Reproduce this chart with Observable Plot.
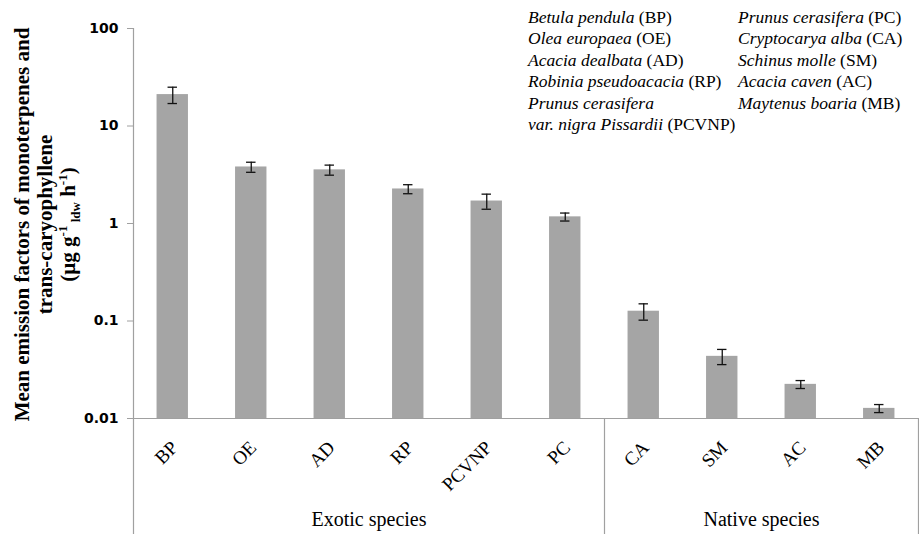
<!DOCTYPE html>
<html>
<head>
<meta charset="utf-8">
<script src="https://cdn.jsdelivr.net/npm/d3@7"></script>
<script src="https://cdn.jsdelivr.net/npm/@observablehq/plot@0.6"></script>
<style>
  body { margin: 0; background: #fff; }
  #wrap { position: relative; width: 919px; height: 534px; overflow: hidden; }
  #wrap svg { position: absolute; left: 0; top: 0; }
  .legcol {
    position: absolute; top: 7px;
    font-family: "Liberation Serif", "Times New Roman", serif; font-size: 17.5px; line-height: 21.4px;
    white-space: nowrap; color: #000;
  }
  .legcol i { font-family: "Liberation Serif", "Times New Roman", serif; font-style: italic; }
</style>
</head>
<body>
<div id="wrap"></div>
<script>
// ---- data ----
const categories = ["BP", "OE", "AD", "RP", "PCVNP", "PC", "CA", "SM", "AC", "MB"];
const means  = [21, 3.8, 3.55, 2.26, 1.7, 1.17, 0.126, 0.0434, 0.0224, 0.0127];
const errors = [4, 0.45, 0.42, 0.24, 0.3, 0.11, 0.024, 0.0077, 0.0021, 0.0012];
const groupNames = ["Exotic species", "Native species"];
const groupSizes = [6, 4];
const yTicks = [0.01, 0.1, 1, 10, 100];
const yTitleLines = ["Mean emission factors of monoterpenes and", "trans-caryophyllene", "(µg g-1 ldw h-1)"];
const legendLeft = [
  ["Betula pendula", "BP"],
  ["Olea europaea", "OE"],
  ["Acacia dealbata", "AD"],
  ["Robinia pseudoacacia", "RP"],
  ["Prunus cerasifera", ""],
  ["var. nigra Pissardii", "PCVNP"]
];
const legendRight = [
  ["Prunus cerasifera", "PC"],
  ["Cryptocarya alba", "CA"],
  ["Schinus molle", "SM"],
  ["Acacia caven", "AC"],
  ["Maytenus boaria", "MB"]
];

// ---- derived tables ----
const rows = categories.map((c, i) => ({c, i, m: means[i], e: errors[i]}));
let start = 0;
const groups = groupNames.map((name, k) => {
  const s = start, e = start + groupSizes[k] - 1;
  start += groupSizes[k];
  return {name, center: (s + e) / 2, end: e + 0.5};
});

const W = 919, H = 534, MT = 28, MB = 116, ML = 133, MR = 1;
const plotH = H - MT - MB;
const axisGray = "#a0a0a0";
const serif = "Liberation Serif, Times New Roman, serif";

const yTitleMarks = yTitleLines.map((line, k) =>
  Plot.text([line], {
    text: d => d, frameAnchor: "left", textAnchor: "middle", rotate: -90,
    dx: -111 + 23 * k, dy: 1,
    fontSize: 21, fontWeight: "bold", fontFamily: serif, fill: "#000",
    className: "ytitle" + k
  })
);

const chart = Plot.plot({
  width: W, height: H,
  marginTop: MT, marginBottom: MB, marginLeft: ML, marginRight: MR,
  x: {type: "linear", domain: [-0.5, categories.length - 0.5], axis: null},
  y: {type: "log", domain: [yTicks[0], yTicks[yTicks.length - 1]], axis: null},
  marks: [
    Plot.rectY(rows, {x1: d => d.i - 0.2, x2: d => d.i + 0.2, y1: yTicks[0], y2: "m", fill: "#a5a5a5"}),
    Plot.ruleX(rows, {x: "i", y1: d => d.m - d.e, y2: d => d.m + d.e, stroke: "#111", strokeWidth: 1.3}),
    Plot.ruleY(rows, {y: d => d.m + d.e, x1: d => d.i - 0.06, x2: d => d.i + 0.06, stroke: "#111", strokeWidth: 1.3}),
    Plot.ruleY(rows, {y: d => d.m - d.e, x1: d => d.i - 0.06, x2: d => d.i + 0.06, stroke: "#111", strokeWidth: 1.3}),
    // axes lines
    Plot.ruleY([yTicks[0]], {stroke: axisGray, strokeWidth: 1.2}),
    Plot.ruleX([-0.5], {stroke: axisGray, strokeWidth: 1.2, insetBottom: -MB}),
    Plot.ruleX(groups, {x: "end", stroke: axisGray, strokeWidth: 1.2, insetTop: plotH, insetBottom: -MB}),
    Plot.axisY({
      ticks: yTicks, tickFormat: d => String(d), tickSize: 6, tickPadding: 9,
      stroke: axisGray, fill: "#000", fontSize: 14, fontWeight: "bold",
      fontFamily: "DejaVu Sans, Verdana, sans-serif", label: null
    }),
    Plot.axisX({
      ticks: rows.map(d => d.i), tickFormat: i => categories[i],
      tickRotate: -45, tickSize: 0, tickPadding: 26, dx: 2,
      fontSize: 19, fontFamily: serif, fill: "#000", label: null
    }),
    Plot.text(groups, {
      x: "center", text: "name", frameAnchor: "bottom", dy: 107,
      fontSize: 20, fontFamily: serif, fill: "#000"
    }),
    ...yTitleMarks
  ]
});
const wrap = document.getElementById("wrap");
wrap.appendChild(chart);

// superscripts / subscript in the unit line of the y title
const unitText = chart.querySelector(".ytitle2 text");
if (unitText) {
  const sel = d3.select(unitText);
  sel.text("");
  const parts = [
    ["(µg g", 0], ["-1", -8], [" ldw", 13], [" h", -5], ["-1", -8], [")", 8]
  ];
  parts.forEach(([txt, shift]) => {
    const ts = sel.append("tspan").text(txt);
    if (shift) ts.attr("dy", shift);
    if (txt === "-1" || txt === " ldw") ts.attr("font-size", 13);
  });
}

function legendColumn(items, left) {
  const div = document.createElement("div");
  div.className = "legcol";
  div.style.left = left + "px";
  items.forEach(([name, abbr]) => {
    const line = document.createElement("div");
    const it = document.createElement("i");
    it.textContent = name;
    line.appendChild(it);
    if (abbr) line.appendChild(document.createTextNode(" (" + abbr + ")"));
    div.appendChild(line);
  });
  wrap.appendChild(div);
}
legendColumn(legendLeft, 528);
legendColumn(legendRight, 738);
</script>
</body>
</html>
